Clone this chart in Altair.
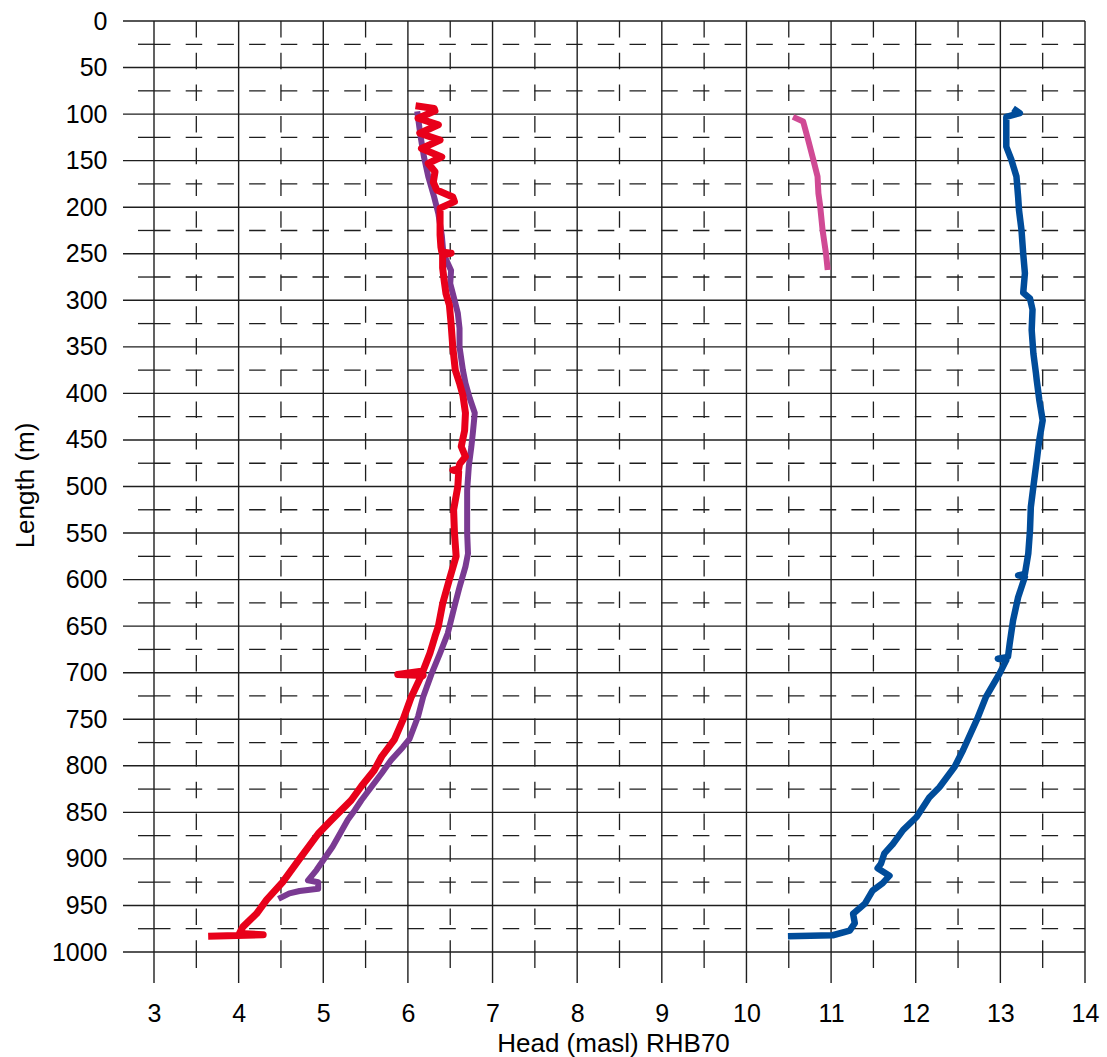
import altair as alt
import pandas as pd

# ---------------- data ----------------
red_head = [6.09, 6.31, 6.32, 6.12, 6.36, 6.14, 6.38, 6.16, 6.40, 6.24, 6.32, 6.30, 6.34, 6.53, 6.55,
            6.38, 6.38, 6.38, 6.39, 6.40, 6.51, 6.41, 6.41, 6.43, 6.45, 6.49, 6.51, 6.53, 6.56, 6.61,
            6.65, 6.68, 6.67, 6.63, 6.68, 6.61, 6.60, 6.53, 6.60, 6.59, 6.54, 6.55, 6.57, 6.49, 6.41,
            6.36, 6.32, 6.26, 6.18, 5.88, 6.18, 6.15, 6.04, 5.94, 5.84, 5.69, 5.60, 5.45, 5.33, 5.10,
            4.94, 4.72, 4.52, 4.33, 4.21, 4.05, 4.01, 4.29, 3.64]
red_len = [91, 94, 96.5, 104.5, 111.5, 120.5, 128, 137, 146, 153, 162, 173, 181.5, 189, 194,
           201, 212, 230, 243, 248, 249.5, 251, 265, 280, 293, 305, 325, 350, 375, 389,
           402, 421, 440, 457, 468, 476, 481, 482.5, 484, 500, 525, 550, 575, 600, 626,
           650, 661, 679, 698, 702, 703, 705, 726, 751, 772, 790, 805, 822, 837, 858,
           873, 900, 925, 944, 959, 973, 980, 981.5, 983]

purple_head = [6.11, 6.15, 6.19, 6.24, 6.31, 6.36, 6.40, 6.42, 6.51, 6.50, 6.54, 6.59, 6.61, 6.61,
               6.65, 6.68, 6.73, 6.79, 6.77, 6.75, 6.72, 6.70, 6.70, 6.70, 6.71, 6.68, 6.61, 6.55,
               6.49, 6.47, 6.38, 6.28, 6.18, 6.12, 6.02, 5.94, 5.80, 5.69, 5.45, 5.37, 5.29, 5.11,
               4.92, 4.82, 4.94, 4.94, 4.72, 4.60, 4.47]
purple_len = [97, 124, 146, 167, 189, 207, 230, 250, 268, 282, 296, 314, 330, 350,
              375, 389, 405, 421, 440, 457, 478, 504, 529, 550, 572, 586, 608, 629,
              651, 658, 679, 701, 726, 747, 771, 780, 794, 808, 837, 848, 858, 887,
              912, 923, 925, 932, 934.5, 937, 943]

pink_head = [10.55, 10.67, 10.73, 10.79, 10.84, 10.85, 10.87, 10.90, 10.94, 10.96]
pink_len = [103, 108, 128, 149, 167, 185, 198, 225, 250, 267.5]

blue_head = [13.15, 13.23, 13.07, 13.07, 13.13, 13.19, 13.21, 13.22, 13.25, 13.27, 13.29, 13.27,
             13.35, 13.38, 13.37, 13.39, 13.42, 13.43, 13.46, 13.50, 13.46, 13.43, 13.40, 13.36,
             13.35, 13.33, 13.29, 13.21, 13.29, 13.21, 13.15, 13.11, 13.09, 12.97, 13.07, 12.99,
             12.83, 12.72, 12.56, 12.46, 12.28, 12.16, 12.01, 11.85, 11.73, 11.63, 11.59, 11.55,
             11.69, 11.61, 11.49, 11.40, 11.26, 11.28, 11.22, 11.02, 10.49]
blue_len = [94, 99, 103, 135, 149, 167, 189, 203, 225, 250, 271, 292,
            298, 310, 332, 357, 378, 386, 407, 429, 450, 472, 493, 522,
            547, 572, 594, 595.5, 597, 619, 644, 669, 683, 685, 686.5, 701,
            726, 751, 783, 801, 823, 834, 855, 869, 884, 894, 905, 910,
            918, 926, 934, 948, 959, 969, 977, 982, 983]

x_major = list(range(3, 15))
x_minor = [v + 0.5 for v in range(3, 14)]
y_major = list(range(0, 1001, 50))
y_minor = list(range(25, 1000, 50))

# ---------------- frames ----------------
def frame(name, hx, ly):
    return pd.DataFrame({"series": name, "head": hx, "length": ly, "idx": range(len(hx))})

df = pd.concat([
    frame("purple", purple_head, purple_len),
    frame("red", red_head, red_len),
    frame("pink", pink_head, pink_len),
    frame("blue", blue_head, blue_len),
], ignore_index=True)

W = 931
H = 931
FONT = "Liberation Sans"
GRID = "#1e1e1e"

xs = alt.Scale(domain=[3, 14], nice=False, zero=False)
ys = alt.Scale(domain=[0, 1000], reverse=True, nice=False, zero=False)

x_axis = alt.Axis(values=x_major, format="d", grid=False, domain=False, ticks=False, tickSize=0,
                  labelPadding=49, labelFontSize=25, labelFont=FONT, labelColor="black",
                  labelFlush=False, labelOverlap=False,
                  title="Head (masl) RHB70", titleFont=FONT, titleFontSize=26,
                  titleFontWeight="normal", titleColor="black",
                  titleX=459, titleY=91, titleAlign="center", titleBaseline="middle")
y_axis = alt.Axis(values=y_major, format="d", grid=False, domain=False, ticks=False, tickSize=0,
                  labelPadding=47, labelFontSize=25, labelFont=FONT, labelColor="black",
                  labelFlush=False, labelOverlap=False,
                  title="Length (m)", titleFont=FONT, titleFontSize=26,
                  titleFontWeight="normal", titleColor="black", titleAngle=270,
                  titleX=-129, titleY=464, titleAlign="center", titleBaseline="middle")

vmaj = alt.Chart(pd.DataFrame({"v": x_major})).mark_rule(color=GRID, strokeWidth=1.4).encode(
    x=alt.X("v:Q", scale=xs, axis=x_axis), y=alt.value(0), y2=alt.value(H + 31))
vmin = alt.Chart(pd.DataFrame({"v": x_minor})).mark_rule(
    color=GRID, strokeWidth=1.3, strokeDash=[16.5, 15.2]).encode(
    x=alt.X("v:Q", scale=xs, axis=x_axis), y=alt.value(0), y2=alt.value(H))
vmin_t = alt.Chart(pd.DataFrame({"v": x_minor})).mark_rule(color=GRID, strokeWidth=1.3).encode(
    x=alt.X("v:Q", scale=xs, axis=x_axis), y=alt.value(H), y2=alt.value(H + 16))
hmaj = alt.Chart(pd.DataFrame({"v": y_major})).mark_rule(color=GRID, strokeWidth=1.4).encode(
    y=alt.Y("v:Q", scale=ys, axis=y_axis), x=alt.value(-31), x2=alt.value(W))
hmin = alt.Chart(pd.DataFrame({"v": y_minor})).mark_rule(
    color=GRID, strokeWidth=1.3, strokeDash=[16.5, 15.2]).encode(
    y=alt.Y("v:Q", scale=ys, axis=y_axis), x=alt.value(0), x2=alt.value(W))
hmin_t = alt.Chart(pd.DataFrame({"v": y_minor})).mark_rule(color=GRID, strokeWidth=1.3).encode(
    y=alt.Y("v:Q", scale=ys, axis=y_axis), x=alt.value(-16), x2=alt.value(0))

base = alt.Chart(df)

def series_layer(name, color, width):
    return base.transform_filter(alt.datum.series == name).mark_line(
        color=color, strokeWidth=width, strokeJoin="round", strokeCap="butt").encode(
        x=alt.X("head:Q", scale=xs, axis=x_axis),
        y=alt.Y("length:Q", scale=ys, axis=y_axis),
        order=alt.Order("idx:Q"))

chart = alt.layer(
    vmaj, vmin, vmin_t, hmaj, hmin, hmin_t,
    series_layer("purple", "#7A3A92", 6),
    series_layer("red", "#E8001A", 7),
    series_layer("pink", "#D04A94", 6),
    series_layer("blue", "#004C9A", 6.5),
).properties(
    width=W, height=H,
    autosize=alt.AutoSizeParams(type="none"),
    padding={"left": 154, "top": 21, "right": 22, "bottom": 105},
    background="white",
).configure_view(strokeWidth=0)

chart.save("out.html", embed_options={"renderer": "svg", "actions": False})
